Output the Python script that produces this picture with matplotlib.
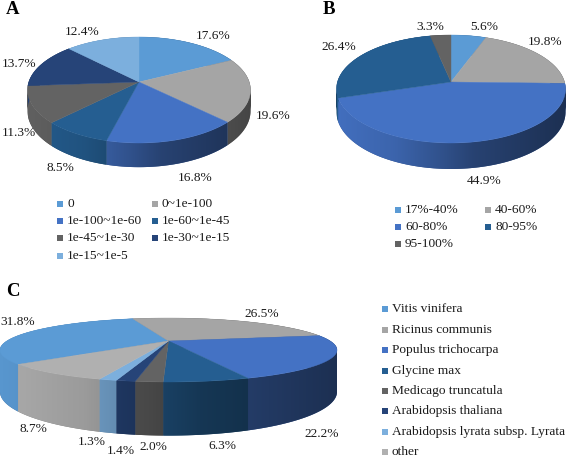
import numpy as np
import matplotlib
matplotlib.use("Agg")
import matplotlib.pyplot as plt
from matplotlib.patches import PathPatch
from matplotlib.path import Path

plt.rcParams['font.family'] = ['Liberation Serif', 'DejaVu Serif']

PALETTE = ['#5B9BD5', '#A5A5A5', '#4472C4', '#255E91', '#636363', '#264478', '#7CAFDD', '#B0B0B0']

a_categories = ['0', '0~1e-100', '1e-100~1e-60', '1e-60~1e-45', '1e-45~1e-30', '1e-30~1e-15', '1e-15~1e-5']
a_values = [17.6, 19.6, 16.8, 8.5, 11.3, 13.7, 12.4]
b_categories = ['17%-40%', '40-60%', '60-80%', '80-95%', '95-100%']
b_values = [5.6, 19.8, 44.9, 26.4, 3.3]
c_categories = ['Vitis vinifera', 'Ricinus communis', 'Populus trichocarpa', 'Glycine max',
                'Medicago truncatula', 'Arabidopsis thaliana', 'Arabidopsis lyrata subsp. Lyrata', 'other']
c_values = [31.8, 26.5, 22.2, 6.3, 2.0, 1.4, 1.3, 8.7]

a_label_pos = [(213, 36), (273, 116), (195, 178), (60, 168), (19, 133), (19, 64), (82, 32)]
b_label_pos = [(484, 27), (545, 42), (484, 181), (339, 47), (430, 27)]
c_label_pos = [(18, 322), (262, 314), (322, 434), (222, 446), (153, 447), (121, 451), (92, 442), (33, 429)]

fig = plt.figure(figsize=(5.67, 4.58), dpi=100)
ax = fig.add_axes([0, 0, 1, 1])
ax.set_xlim(0, 567)
ax.set_ylim(458, 0)
ax.axis('off')


def wall_path(x, y, yb):
    """Union of same-oriented quads, so that a wall that passes the silhouette stays solid."""
    paths = []
    for j in range(len(x) - 1):
        q = np.array([[x[j], y[j]], [x[j + 1], y[j + 1]], [x[j + 1], yb[j + 1]], [x[j], yb[j]]])
        area = np.sum(q[:, 0] * np.roll(q[:, 1], -1) - np.roll(q[:, 0], -1) * q[:, 1])
        if area < 0:
            q = q[::-1]
        paths.append(Path(np.r_[q, q[:1]], closed=True))
    return Path.make_compound_path(*paths)


def pie3d(values, cx, cy, rx, up, down, depth, start):
    k = (down - up) / (down + up)
    a = up * (1 + k)
    A = rx * np.sqrt(1 - k * k)

    def proj(theta):
        px, py = np.sin(theta), np.cos(theta)
        w = 1 + k * py
        return cx + A * px / w, cy - a * py / w, w

    fractions = np.asarray(values, float) / np.sum(values)
    edges = np.radians(start) + 2 * np.pi * np.concatenate([[0], np.cumsum(fractions)])
    u = np.linspace(-1, 1, 256)
    f = np.interp(u, [-1, -0.5, -0.1, 0.2, 1], [0.97, 0.88, 0.72, 0.58, 0.42])
    ytop, ybot = cy - up - 5, cy + down + depth / (1 - k) + 5
    for i in range(len(values)):
        t = np.linspace(edges[i], edges[i + 1], 120)
        x, y, w = proj(t)
        p = wall_path(x, y, y + depth / w)
        rgb = np.array(matplotlib.colors.to_rgb(PALETTE[i]))
        ax.add_patch(PathPatch(p, fc=rgb * 0.7, ec='none', zorder=2))
        img = np.tile((f[:, None] * rgb)[None, :, :], (2, 1, 1))
        im = ax.imshow(img, extent=(cx - rx, cx + rx, ybot, ytop), aspect='auto',
                       interpolation='bilinear', zorder=2.1)
        im.set_clip_path(PathPatch(p, transform=ax.transData))
    ax.set_xlim(0, 567)
    ax.set_ylim(458, 0)
    for i in range(len(values)):
        t = np.linspace(edges[i], edges[i + 1], 120)
        x, y, _ = proj(t)
        ax.fill(np.r_[cx, x], np.r_[cy, y], color=PALETTE[i], lw=0.3, zorder=3)


def labels(values, positions):
    for v, (x, y) in zip(values, positions):
        ax.text(x, y, f'{v:.1f}%', ha='center', va='center', fontsize=9.6, color='#1a1a1a', zorder=5)


def legend(cats, rows, size=9.6):
    for i, (cat, (mx, my)) in enumerate(zip(cats, rows)):
        ax.plot([mx], [my], marker='s', ms=4.6, color=PALETTE[i], mew=0, ls='none', zorder=5)
        ax.text(mx + 7, my, cat, ha='left', va='center', fontsize=size, color='#1a1a1a', zorder=5)


pie3d(a_values, 139, 82, 111.5, 45, 61, 20.5, 0)
pie3d(b_values, 451, 82, 114.5, 47, 61, 22.6, 0)
pie3d(c_values, 168.5, 341, 168.5, 23, 41, 38.5, -130.5)

labels(a_values, a_label_pos)
labels(b_values, b_label_pos)
labels(c_values, c_label_pos)

legend(a_categories, [(60, 204), (154.5, 204), (60, 221), (154.5, 221), (60, 238), (154.5, 238), (60, 256)])
legend(b_categories, [(398, 210), (488, 210), (398, 227), (488, 227), (398, 244)])
legend(c_categories, [(385, 309), (385, 330), (385, 350), (385, 371), (385, 391), (385, 411), (385, 432), (385, 452)])

for name, x, y in [('A', 13, 10), ('B', 329, 9.5), ('C', 13, 291)]:
    ax.text(x, y, name, ha='center', va='center', fontsize=13.5, fontweight='bold', color='black')

fig.savefig('out.png', dpi=100)
